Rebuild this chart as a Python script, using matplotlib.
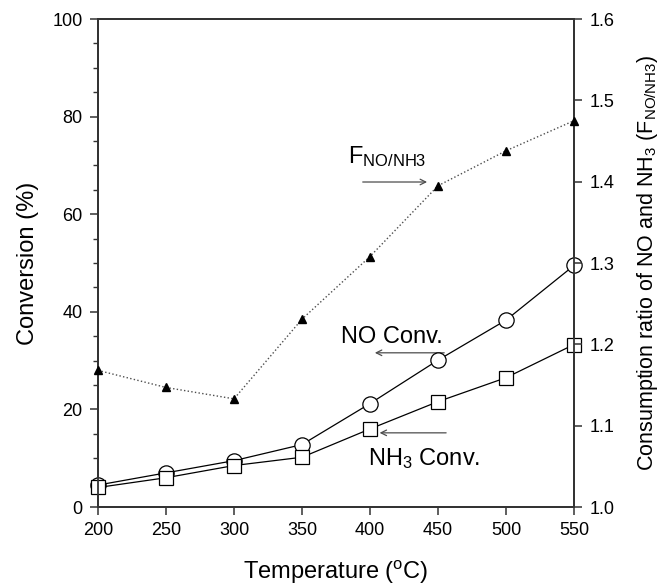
import matplotlib
matplotlib.use("Agg")
import matplotlib.pyplot as plt
from matplotlib.ticker import MultipleLocator, FormatStrFormatter

plt.rcParams['font.family'] = ['Liberation Sans', 'DejaVu Sans']
plt.rcParams['mathtext.default'] = 'regular'

temperature = [200, 250, 300, 350, 400, 450, 500, 550]
no_conv = [4.5, 7.0, 9.5, 12.8, 21.2, 30.1, 38.3, 49.5]
nh3_conv = [4.0, 6.0, 8.5, 10.2, 16.0, 21.6, 26.5, 33.3]
f_ratio = [1.168, 1.147, 1.133, 1.231, 1.308, 1.395, 1.438, 1.475]

fig = plt.figure(figsize=(6.64, 5.85), dpi=100)
ax = fig.add_axes([0.1476, 0.1333, 0.7169, 0.8342])
ax2 = ax.twinx()

ax.plot(temperature, no_conv, color='black', lw=0.9, marker='o', ms=11,
        mfc='white', mec='black', mew=0.9, clip_on=False, zorder=5)
ax.plot(temperature, nh3_conv, color='black', lw=0.9, marker='s', ms=10,
        mfc='white', mec='black', mew=0.9, clip_on=False, zorder=5)
ax2.plot(temperature, f_ratio, color='0.3', lw=1.0, ls=':', marker='^', ms=6,
         mfc='black', mec='black', clip_on=False, zorder=5)

ax.set_xlim(200, 550)
ax.set_ylim(0, 100)
ax2.set_ylim(1.0, 1.6)

ax.xaxis.set_major_locator(MultipleLocator(50))
ax.yaxis.set_major_locator(MultipleLocator(20))
ax.yaxis.set_minor_locator(MultipleLocator(5))
ax2.yaxis.set_major_locator(MultipleLocator(0.1))
ax2.yaxis.set_major_formatter(FormatStrFormatter('%.1f'))

for a in (ax, ax2):
    for s in a.spines.values():
        s.set_linewidth(1.3)
        s.set_color('#333333')
    a.tick_params(which='major', length=6, width=1.1, color='#333333',
                  labelsize=13, pad=5)
    a.tick_params(which='minor', length=3.5, width=1.0, color='#333333')

ax.set_xlabel('Temperature ($^{o}$C)', fontsize=17, labelpad=14)
ax.set_ylabel('Conversion (%)', fontsize=17, labelpad=10)
ax2.set_ylabel('Consumption ratio of NO and NH$_3$ (F$_{NO/NH3}$)',
               fontsize=15.5, labelpad=15)

ax.text(383.8, 70.5, 'F$_{NO/NH3}$', fontsize=17, va='baseline', ha='left')
ax.annotate('', xy=(444, 66.6), xytext=(392.6, 66.6),
            arrowprops=dict(arrowstyle='->', color='0.3', lw=0.9))

ax.text(378.7, 33.6, 'NO Conv.', fontsize=17, va='baseline', ha='left')
ax.annotate('', xy=(401.5, 31.6), xytext=(456.6, 31.6),
            arrowprops=dict(arrowstyle='->', color='0.3', lw=0.9))

ax.text(398.5, 8.6, 'NH$_3$ Conv.', fontsize=17, va='baseline', ha='left')
ax.annotate('', xy=(405, 15.2), xytext=(458, 15.2),
            arrowprops=dict(arrowstyle='->', color='0.3', lw=0.9))

fig.savefig('out.png', dpi=100)
